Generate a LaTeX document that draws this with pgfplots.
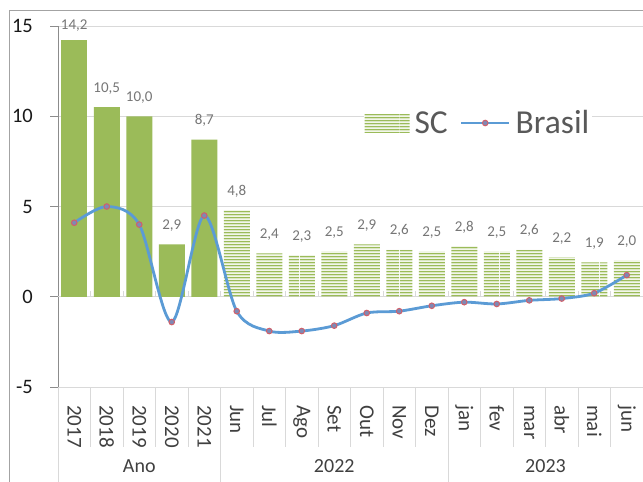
\documentclass[border=0pt]{standalone}
\usepackage{fontspec}
\setmainfont{Carlito}
\usepackage{pgfplots}
\pgfplotsset{compat=1.18}
\usetikzlibrary{patterns}
\pgfdeclarepatternformonly{hstripes}{\pgfpointorigin}{\pgfpoint{100pt}{3.2pt}}{\pgfpoint{100pt}{3.2pt}}{%
  \pgfpathrectangle{\pgfpoint{0pt}{0.7pt}}{\pgfpoint{100pt}{1.8pt}}\pgfusepath{fill}}
\definecolor{scgreen}{HTML}{9BBB59}
\definecolor{brblue}{HTML}{5B9BD5}
\definecolor{brred}{HTML}{D0606A}
\definecolor{gridgray}{HTML}{D9D9D9}
\definecolor{axgray}{HTML}{8C8C8C}
\definecolor{lblgray}{HTML}{767676}
\definecolor{txtgray}{HTML}{404040}
\definecolor{leggray}{HTML}{595959}
\pgfplotsset{
  sclegend/.style={legend image code/.code={\fill[pattern=hstripes, pattern color=scgreen] (0pt,-9pt) rectangle (45pt,9pt);}},
  brlegend/.style={legend image code/.code={\draw[##1, mark repeat=2, mark phase=2] plot coordinates {(0pt,0pt) (24pt,0pt) (48pt,0pt)};}},
  barlabels/.style={
    nodes near coords={\pgfmathprintnumber[fixed, fixed zerofill, precision=1, use comma, assume math mode=true]{\pgfplotspointmeta}},
    every node near coord/.append style={anchor=base, inner sep=0pt, yshift=#1, font=\fontsize{15}{15}\selectfont, text=lblgray}},
  barlabels/.default=15pt,
}
\begin{document}
\begin{tikzpicture}
\useasboundingbox (0,0) rectangle (643pt,-482pt);
\fill[white] (0,0) rectangle (643pt,-482pt);
\clip (0,0) rectangle (643pt,-482pt);
\draw[axgray!80, line width=1pt] (9.5pt,-482pt) -- (9.5pt,-10pt) -- (643pt,-10pt);
\begin{axis}[
  at={(58pt,-387pt)}, anchor=south west,
  scale only axis, width=585pt, height=361pt,
  xmin=-0.5, xmax=17.5, ymin=-5, ymax=15,
  clip=false,
  axis x line*=bottom, axis y line*=left,
  x axis line style={gridgray, line width=0.8pt},
  y axis line style={axgray, line width=0.8pt},
  ytick={-5,0,5,10,15},
  ymajorgrids, grid style={gridgray, line width=0.8pt},
  xtick={0,...,17},
  xticklabels={2017,2018,2019,2020,2021,Jun,Jul,Ago,Set,Out,Nov,Dez,jan,fev,mar,abr,mai,jun},
  xtick style={draw=none},
  xticklabel style={rotate=-90, anchor=west, inner sep=0pt, font=\fontsize{21}{21}\selectfont, text=txtgray},
  xticklabel shift=10pt,
  ytick style={axgray, line width=0.8pt},
  tick align=outside, major tick length=8pt,
  /pgf/number format/assume math mode=true,
  yticklabel style={font=\fontsize{20.5}{20.5}\selectfont, text=black!90, inner sep=0pt, anchor=east},
  yticklabel shift=17pt,
  legend style={at={(0.522,0.7313)}, anchor=west, draw=none, fill=white, inner sep=1pt,
    font=\fontsize{33.5}{33.5}\selectfont, text=leggray,
    nodes={inner xsep=2pt, inner ysep=1pt},
    /tikz/every odd column/.append style={column sep=3pt},
    /tikz/every even column/.append style={column sep=10pt}},
  legend columns=2,
]
\draw[gridgray, line width=0.8pt] (axis cs:-0.5,0) -- (axis cs:17.5,0);
\pgfplotsinvokeforeach{0,...,16}{\draw[gridgray, line width=0.8pt] (axis cs:#1.5,0) -- ++(0pt,6pt);}
\pgfplotsinvokeforeach{0,...,16}{\draw[gridgray, line width=0.8pt] (axis cs:#1.5,-5) -- ++(0pt,-60pt);}
\draw[gridgray, line width=0.8pt] (axis cs:-0.5,-5) -- ++(0pt,-100pt);
\draw[gridgray, line width=0.8pt] (axis cs:4.5,-5) -- ++(0pt,-100pt);
\draw[gridgray, line width=0.8pt] (axis cs:11.5,-5) -- ++(0pt,-100pt);
\node[font=\fontsize{20}{20}\selectfont, text=txtgray, yshift=-79pt] at (axis cs:2,-5) {Ano};
\node[font=\fontsize{20}{20}\selectfont, text=txtgray, yshift=-79pt] at (axis cs:8,-5) {2022};
\node[font=\fontsize{20}{20}\selectfont, text=txtgray, yshift=-79pt] at (axis cs:14.5,-5) {2023};

\addplot[ybar, bar width=0.8, bar shift=0pt, fill=scgreen, draw=none, forget plot, barlabels=11pt]
  coordinates {(0,14.2)};
\addplot[ybar, bar width=0.8, bar shift=0pt, fill=scgreen, draw=none, forget plot, barlabels]
  coordinates {(1,10.5) (2,10.0) (3,2.9) (4,8.7)};

\addplot[ybar, bar width=0.8, bar shift=0pt, draw=none,
  pattern=hstripes, pattern color=scgreen,
  sclegend, barlabels]
  coordinates {(5,4.8) (6,2.4) (7,2.3) (8,2.5) (9,2.9) (10,2.6) (11,2.5) (12,2.8) (13,2.5) (14,2.6) (15,2.2) (16,1.9) (17,2.0)};
\addlegendentry{SC}

\addplot[brblue, line width=2.8pt, smooth, mark=*, mark size=2.8pt,
  mark options={draw=brred, fill=brblue!70!brred, line width=1pt}, brlegend]
  coordinates {(0,4.1) (1,5.0) (2,4.0) (3,-1.4) (4,4.5) (5,-0.8) (6,-1.9) (7,-1.9) (8,-1.6) (9,-0.9) (10,-0.8) (11,-0.5) (12,-0.3) (13,-0.4) (14,-0.2) (15,-0.1) (16,0.2) (17,1.2)};
\addlegendentry{Brasil}
\end{axis}
\end{tikzpicture}
\end{document}
